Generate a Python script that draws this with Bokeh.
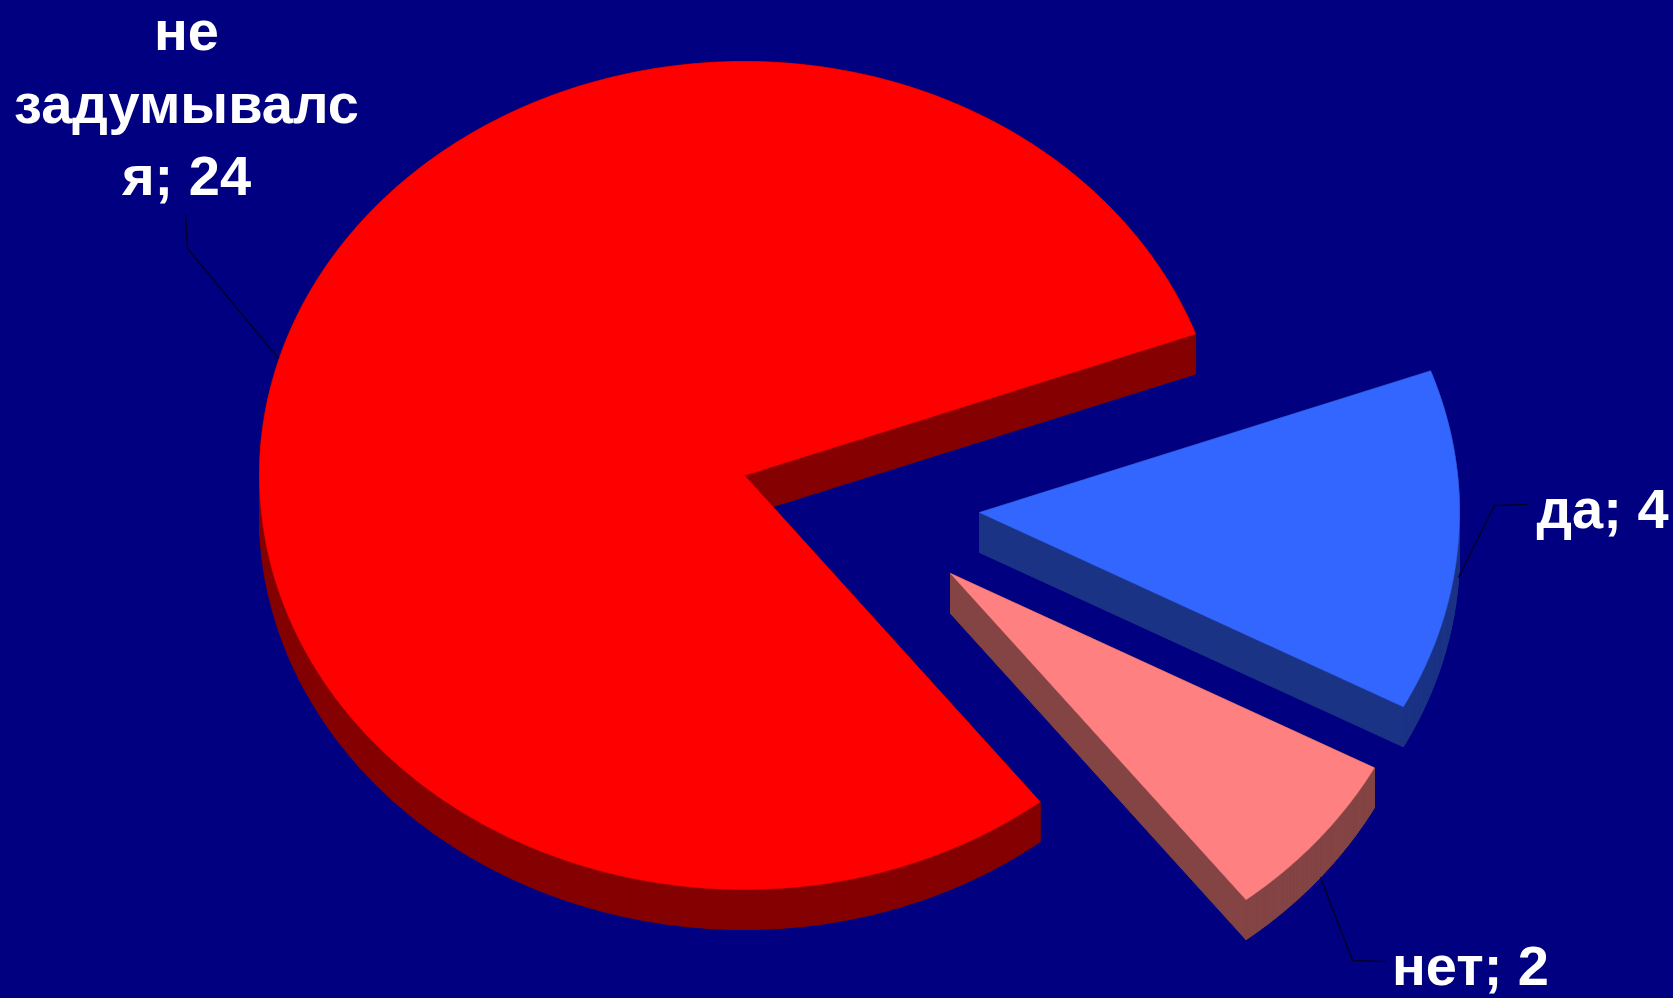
import numpy as np
from bokeh.core.properties import value
from bokeh.embed import file_html
from bokeh.models import Range1d
from bokeh.plotting import figure
from bokeh.resources import INLINE

# data
categories = ["не задумывался", "да", "нет"]
values = [24, 4, 2]

# label text
label_lines = [["не", "задумывалс", "я; 24"], ["да; 4"], ["нет; 2"]]

# styles / layout
top_colors = ["#FF0000", "#3366FF", "#FF8080"]
side_colors = ["#850000", "#1B3385", "#844444"]
BG = "#000080"
W, H = 1673, 998
CX, CY, RX_LEFT, RX_RIGHT, RY = 744, 475, 485, 480, 414
DEPTH = 40
FIRST_ANGLE = -52.0                  # where the first slice begins
explode_x = [0, 235, 206]
explode_y = [0, 37, 98]
FONT = "Liberation Sans"
FONT_PX = 56

p = figure(width=W, height=H, x_range=Range1d(0, W), y_range=Range1d(H, 0),
           output_backend="svg", toolbar_location=None, min_border=0,
           background_fill_color=BG, border_fill_color=BG, outline_line_color=None)
p.axis.visible = False
p.grid.visible = False

total = sum(values)
start = FIRST_ANGLE
for v, top, side, ox, oy in zip(values, top_colors, side_colors, explode_x, explode_y):
    sweep = 360.0 * v / total
    a = np.radians(np.linspace(start, start - sweep, max(int(sweep * 2), 8)))
    start -= sweep
    c = np.cos(a)
    x = np.concatenate([[CX + ox], CX + ox + np.where(c >= 0, RX_RIGHT, RX_LEFT) * c])
    y = np.concatenate([[CY + oy], CY + oy - RY * np.sin(a)])
    xc, yc = np.append(x, x[0]), np.append(y, y[0])
    xs = [[xc[i], xc[i + 1], xc[i + 1], xc[i]] for i in range(len(x))]
    ys = [[yc[i], yc[i + 1], yc[i + 1] + DEPTH, yc[i] + DEPTH] for i in range(len(x))]
    p.patches(xs, ys, fill_color=side, line_color=side, line_width=1)
    p.patch(x, y, fill_color=top, line_color=top, line_width=0.5)

# leader lines
leader_x = [[185, 187, 278], [1458, 1494, 1527], [1320, 1352, 1385]]
leader_y = [[213, 248, 358], [577, 505, 504], [877, 960, 961]]
p.multi_line(leader_x, leader_y, line_color="#00002A", line_width=1.5)

# labels: y is the middle of each line of text
label_x = [186, 1602, 1470]
label_y = [30, 508, 965]
LINE_STEP = 72.5
for lines, lx, ly in zip(label_lines, label_x, label_y):
    for i, line in enumerate(lines):
        p.text([lx], [ly + i * LINE_STEP], text=[line], text_color="#FFFFFF",
               text_font=value(FONT), text_font_style="bold",
               text_font_size=f"{FONT_PX}px", text_align="center",
               text_baseline="middle")

html = file_html(p, INLINE)
html = html.replace("<head>", "<head><style>html,body{margin:0;padding:0;overflow:hidden;background:#000080}</style>", 1)
open("out.html", "w").write(html)
